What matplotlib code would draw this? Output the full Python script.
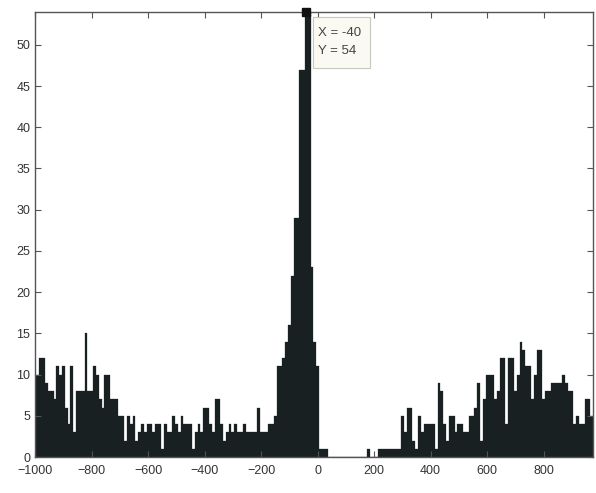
import numpy as np
import matplotlib.pyplot as plt
from matplotlib.patches import Rectangle

plt.rcParams['font.family'] = ['Liberation Sans', 'DejaVu Sans']

# histogram bins (centre of each 10-wide bin)
bin_start = -1000
bin_width = 10
counts = [
    10, 10, 12, 12, 9, 8, 8, 7, 11, 10,
    11, 6, 4, 11, 3, 8, 8, 8, 15, 8,
    8, 11, 10, 7, 6, 10, 10, 7, 7, 7,
    5, 5, 2, 5, 4, 5, 2, 3, 4, 3,
    4, 4, 3, 4, 4, 1, 4, 3, 3, 5,
    4, 3, 5, 4, 4, 4, 1, 3, 4, 3,
    6, 6, 4, 3, 7, 7, 4, 2, 3, 4,
    3, 4, 3, 3, 4, 3, 3, 3, 3, 6,
    3, 3, 3, 4, 4, 5, 11, 11, 12, 14,
    16, 22, 29, 29, 47, 47, 54, 54, 23, 14,
    11, 1, 1, 1, 0, 0, 0, 0, 0, 0,
    0, 0, 0, 0, 0, 0, 0, 0, 1, 0,
    0, 0, 1, 1, 1, 1, 1, 1, 1, 1,
    5, 3, 6, 6, 2, 1, 5, 3, 4, 4,
    4, 4, 1, 9, 8, 4, 2, 5, 5, 3,
    4, 4, 3, 3, 5, 5, 6, 9, 2, 7,
    10, 10, 10, 7, 8, 12, 12, 4, 12, 12,
    8, 10, 14, 13, 11, 11, 7, 10, 13, 13,
    7, 8, 8, 9, 9, 9, 9, 10, 9, 8,
    8, 4, 5, 4, 4, 7, 7, 5,
]
centers = bin_start + bin_width * np.arange(len(counts))

xticks = [-1000, -800, -600, -400, -200, 0, 200, 400, 600, 800]
yticks = [0, 5, 10, 15, 20, 25, 30, 35, 40, 45, 50]

# data cursor
tip_x, tip_y = -40, 54

fig = plt.figure(figsize=(5.96, 4.93), dpi=100)
ax = fig.add_axes([0.059, 0.073, 0.936, 0.903])

ax.bar(centers, counts, width=bin_width, color='#182022',
       edgecolor='#182022', linewidth=0.2)

ax.set_xlim(-1000, 975)
ax.set_ylim(0, 54)
ax.set_xticks(xticks)
ax.set_yticks(yticks)
ax.tick_params(direction='in', length=4, width=0.8, color='#555555',
               labelsize=9, labelcolor='#333333', top=True, right=True)
ax.tick_params(axis='x', pad=6)
for s in ax.spines.values():
    s.set_color('#555555')
    s.set_linewidth(1.0)

# datatip box
ax.add_patch(Rectangle((-16, 47.2), 202, 6.2, fc='#fafaf2', ec='#c8c8c0',
                       lw=0.8, zorder=4))
ax.text(2, 51.4, 'X = %d' % tip_x, fontsize=9.5, color='#444444',
        va='center', ha='left', zorder=5)
ax.text(2, 49.3, 'Y = %d' % tip_y, fontsize=9.5, color='#444444',
        va='center', ha='left', zorder=5)
ax.plot(tip_x, tip_y, 's', ms=6, color='#111111', clip_on=False, zorder=5)

fig.savefig('out.png', dpi=100)
